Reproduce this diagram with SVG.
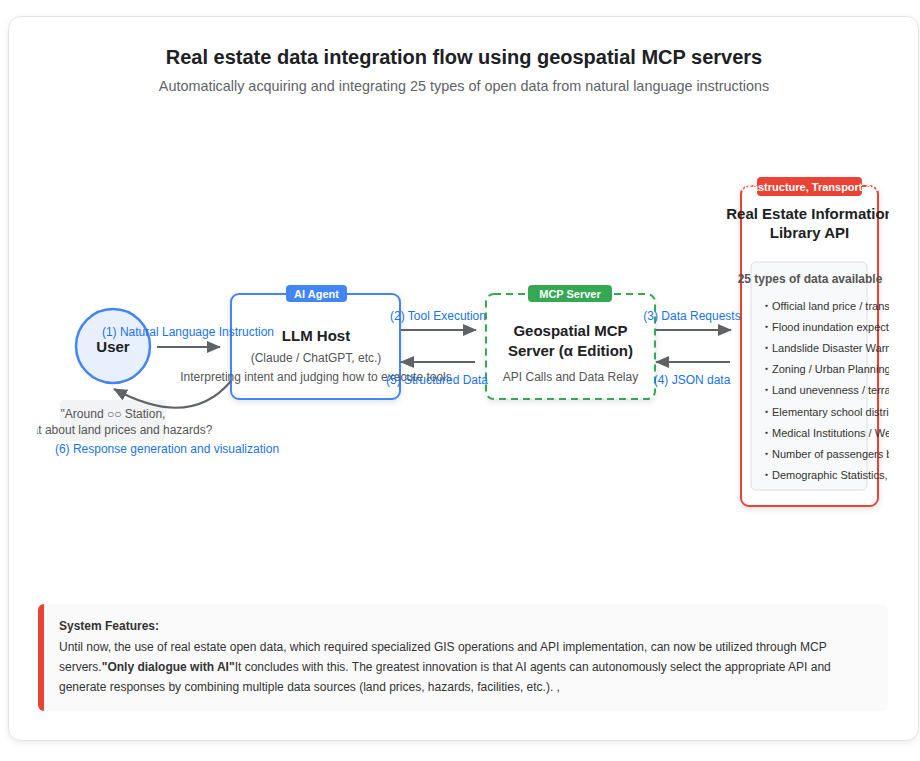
<svg xmlns="http://www.w3.org/2000/svg" width="920" height="761" viewBox="0 0 920 761">
<defs>
<style>
text{font-family:"Liberation Sans",Arial,"Noto Sans CJK JP",sans-serif;}
.title{font-size:20px;font-weight:bold;fill:#202124;}
.sub{font-size:14.4px;fill:#5f6368;}
.ntitle{font-size:15px;font-weight:bold;fill:#202124;}
.nsub{font-size:12px;fill:#555;}
.lbl{font-size:12px;fill:#1a73e8;}
.badge{font-size:11px;font-weight:bold;fill:#fff;}
.item{font-size:11px;fill:#333;}
.body{font-size:12px;fill:#333;}
.conn{stroke:#5f6368;stroke-width:2;fill:none;}
</style>
<marker id="ah" markerUnits="userSpaceOnUse" markerWidth="14" markerHeight="12" refX="13" refY="6" orient="auto">
<path d="M0,0 L14,6 L0,12 z" fill="#5f6368"/>
</marker>
<filter id="card" x="-5%" y="-5%" width="110%" height="110%">
<feDropShadow dx="0" dy="2" stdDeviation="3" flood-color="#000" flood-opacity="0.08"/>
</filter>
<filter id="sh" x="-10%" y="-10%" width="120%" height="120%">
<feDropShadow dx="0" dy="2" stdDeviation="3" flood-color="#000" flood-opacity="0.12"/>
</filter>
<clipPath id="area"><rect x="37" y="100" width="852" height="500"/></clipPath>
</defs>
<rect width="920" height="761" fill="#fff"/>
<rect x="8.5" y="16.5" width="910" height="724" rx="12" fill="#fff" stroke="#e3e3e3" filter="url(#card)"/>
<text class="title" x="464" y="64" text-anchor="middle">Real estate data integration flow using geospatial MCP servers</text>
<text class="sub" x="464" y="91" text-anchor="middle">Automatically acquiring and integrating 25 types of open data from natural language instructions</text>

<g clip-path="url(#area)">
<g id="user">
<circle cx="113" cy="346" r="37" fill="#e8f0fe" stroke="#4285f4" stroke-width="2.5"/>
<text class="ntitle" x="113" y="352" text-anchor="middle">User</text>
</g>
<g id="query">
<rect x="60" y="400" width="106" height="41" rx="4" fill="#f1f3f4"/>
<text class="nsub" x="113" y="418" text-anchor="middle">"Around ○○ Station,</text>
<text class="nsub" x="113" y="434" text-anchor="middle">What about land prices and hazards?</text>
</g>
<g id="llm">
<rect x="231" y="294" width="169" height="105" rx="8" fill="#fff" stroke="#4285f4" stroke-width="2" filter="url(#sh)"/>
<rect x="286" y="285" width="61" height="17" rx="4" fill="#4285f4"/>
<text class="badge" x="316.5" y="298" text-anchor="middle">AI Agent</text>
<text class="ntitle" x="316" y="341" text-anchor="middle">LLM Host</text>
<text class="nsub" x="316" y="362" text-anchor="middle">(Claude / ChatGPT, etc.)</text>
<text class="nsub" x="316" y="381" text-anchor="middle">Interpreting intent and judging how to execute tools</text>
</g>
<g id="mcp">
<rect x="486" y="294" width="169" height="105" rx="8" fill="#fff" stroke="#34a853" stroke-width="2" stroke-dasharray="7,5" filter="url(#sh)"/>
<rect x="528" y="285" width="84" height="17" rx="4" fill="#34a853"/>
<text class="badge" x="570" y="298" text-anchor="middle">MCP Server</text>
<text class="ntitle" x="570.5" y="336" text-anchor="middle">Geospatial MCP</text>
<text class="ntitle" x="570.5" y="356" text-anchor="middle">Server (α Edition)</text>
<text class="nsub" x="570.5" y="381" text-anchor="middle">API Calls and Data Relay</text>
</g>
<g id="reinfolib">
<rect x="741" y="186" width="137" height="320" rx="8" fill="#fff" stroke="#ea4335" stroke-width="2" filter="url(#sh)"/>
<rect x="757" y="177" width="105" height="19" rx="4" fill="#ea4335"/>
<text class="badge" y="191"><tspan x="758" text-anchor="end">Hazards, Infra</tspan><tspan x="758" text-anchor="start">structure, Transport and Facilities</tspan></text>
<text class="ntitle" x="810" y="219" text-anchor="middle">Real Estate Information</text>
<text class="ntitle" x="809.5" y="238" text-anchor="middle">Library API</text>
<rect x="751" y="262" width="116" height="228" rx="5" fill="#f8f9fa" stroke="#dadce0"/>
<text x="810" y="283" text-anchor="middle" style="font-size:12px;font-weight:bold;fill:#555">25 types of data available</text>
<text class="item" x="761" y="310">・Official land price / transaction price</text>
<text class="item" x="761" y="331">・Flood inundation expected area</text>
<text class="item" x="761" y="352">・Landslide Disaster Warning Area</text>
<text class="item" x="761" y="373">・Zoning / Urban Planning</text>
<text class="item" x="761" y="394">・Land unevenness / terrain</text>
<text class="item" x="761" y="416">・Elementary school district</text>
<text class="item" x="761" y="437">・Medical Institutions / Welfare Facilities</text>
<text class="item" x="761" y="458">・Number of passengers by station</text>
<text class="item" x="761" y="479">・Demographic Statistics, etc.</text>
</g>
<g id="connectors">
<line class="conn" x1="157" y1="347" x2="220" y2="347" marker-end="url(#ah)"/>
<line class="conn" x1="401" y1="330" x2="476" y2="330" marker-end="url(#ah)"/>
<line class="conn" x1="475" y1="362" x2="401" y2="362" marker-end="url(#ah)"/>
<line class="conn" x1="656" y1="330" x2="731" y2="330" marker-end="url(#ah)"/>
<line class="conn" x1="730" y1="362" x2="656" y2="362" marker-end="url(#ah)"/>
<path class="conn" d="M231,381 Q190,430 114,389" marker-end="url(#ah)"/>
<text class="lbl" x="188" y="336" text-anchor="middle">(1) Natural Language Instruction</text>
<text class="lbl" x="438" y="320" text-anchor="middle">(2) Tool Execution</text>
<text class="lbl" x="692" y="320" text-anchor="middle">(3) Data Requests</text>
<text class="lbl" x="692" y="384" text-anchor="middle">(4) JSON data</text>
<text class="lbl" x="437" y="384" text-anchor="middle">(5) Structured Data</text>
<text class="lbl" x="167" y="453" text-anchor="middle">(6) Response generation and visualization</text>
</g>
</g>

<g id="features">
<rect x="38" y="604" width="850" height="107" rx="6" fill="#fafafa"/>
<path d="M44,604 L44,711 A6,6 0 0 1 38,705 L38,610 A6,6 0 0 1 44,604 z" fill="#ea4335"/>
<text class="body" x="59" y="630" font-weight="bold">System Features:</text>
<text class="body" x="59" y="651">Until now, the use of real estate open data, which required specialized GIS operations and API implementation, can now be utilized through MCP</text>
<text class="body" x="59" y="671">servers.<tspan font-weight="bold">"Only dialogue with AI"</tspan>It concludes with this. The greatest innovation is that AI agents can autonomously select the appropriate API and</text>
<text class="body" x="59" y="691">generate responses by combining multiple data sources (land prices, hazards, facilities, etc.). ,</text>
</g>
</svg>
